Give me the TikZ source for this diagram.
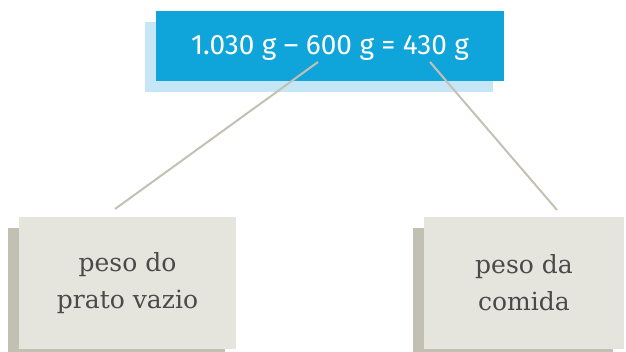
\documentclass[tikz,border=0pt]{standalone}
\usepackage{fontspec}
\newfontfamily\sumfont{Fira Sans}
\newfontfamily\labelfont{DejaVu Serif}
\usepackage{tikz}
\usetikzlibrary{shadows}
\definecolor{sumblue}{HTML}{10A5DA}
\definecolor{sumshade}{HTML}{C5E6F6}
\definecolor{boxgray}{HTML}{E5E4DD}
\definecolor{boxshade}{HTML}{C2C0B3}
\definecolor{linegray}{HTML}{C3C1B4}
\definecolor{textgray}{HTML}{4A4A4A}

\begin{document}
\begin{tikzpicture}[x=1pt, y=-1pt,
  sumbox/.style={fill=sumblue, text=white, inner sep=0pt,
    minimum width=348pt, minimum height=70pt,
    text height=20pt, text depth=2pt,
    font=\sumfont\fontsize{28}{32}\selectfont,
    drop shadow={shadow xshift=-11pt, shadow yshift=-11pt, fill=sumshade, opacity=1}},
  partbox/.style={fill=boxgray, text=textgray, inner sep=0pt, align=center,
    minimum height=132pt,
    font=\labelfont\fontsize{25}{37}\selectfont,
    drop shadow={shadow xshift=-11pt, shadow yshift=-11pt, fill=boxshade, opacity=1}}]
\useasboundingbox (0,0) rectangle (626,352);
\node[sumbox] (sum) at (330,46) {1.030 g \textendash{} 600 g = 430 g};
\node[partbox, minimum width=217pt] (prato) at (127.5,283) {peso do\\prato vazio};
\node[partbox, minimum width=200pt] (comida) at (524,283) {peso da\\comida};
\coordinate (sum-l) at (318,62);
\coordinate (sum-r) at (430,62);
\coordinate (prato-t) at (115,209);
\coordinate (comida-t) at (557,210);
\path[linegray, line width=2pt]
(sum-l) edge (prato-t)
(sum-r) edge (comida-t);
\end{tikzpicture}
\end{document}
